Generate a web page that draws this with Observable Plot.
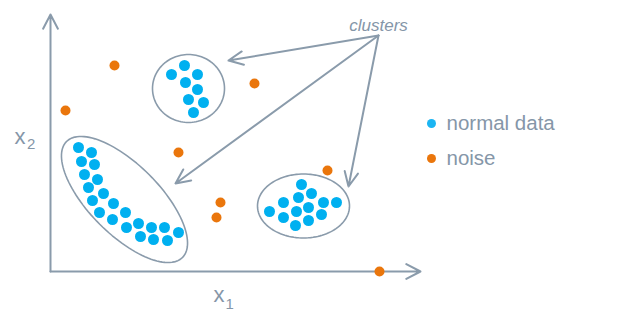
<!DOCTYPE html>
<html>
<head>
<meta charset="utf-8">
<script src="https://cdn.jsdelivr.net/npm/d3@7"></script>
<script src="https://cdn.jsdelivr.net/npm/@observablehq/plot@0.6"></script>
<style>
  html, body { margin: 0; padding: 0; background: #fff; }
  #chart svg { display: block; }
</style>
</head>
<body>
<div id="chart"></div>
<script>
// Normal data (three clusters), values in x1 / x2 units
const normalX1 = [28, 41, 31, 44, 34, 47, 38, 53, 42, 63, 49, 75, 62, 76, 88, 101, 114, 128, 90, 103, 117,
                  134, 121, 147, 135, 147, 138, 153, 143,
                  251, 261, 248, 233, 273, 286, 258, 219, 246, 233, 271, 258, 245];
const normalX2 = [124, 119, 110, 107, 97, 92, 84, 78, 71, 68, 59, 59, 52, 44, 48, 44, 44, 39, 35, 32, 31,
                  206, 197, 197, 189, 182, 172, 169, 159,
                  87, 78, 74, 69, 69, 69, 64, 60, 60, 54, 57, 51, 46];
// Noise points
const noiseX1 = [64, 15, 204, 128, 277, 170, 166, 329];
const noiseX2 = [206, 161, 188, 119, 101, 69, 54, 0];
// Cluster outlines: centre, radii, rotation (deg)
const clusterCx = [74, 138, 253];
const clusterCy = [72, 183, 65.5];
const clusterRx = [82, 36, 46];
const clusterRy = [35, 34, 32];
const clusterRot = [-45, 0, 0];
// Annotation arrows from the "clusters" label
const arrowFromX = [328, 328, 328];
const arrowFromY = [236, 236, 236];
const arrowToX = [178, 125, 298];
const arrowToY = [211, 88, 85];
// Legend
const legendLabels = ["normal data", "noise"];
const legendColors = ["#1cb5f2", "#ea760c"];

const BLUE = "#00b0f0", ORANGE = "#ea760c", GREY = "#8a9bab", TEXT = "#8596a8";

const normal = normalX1.map((x, i) => ({x, y: normalX2[i]}));
const noise = noiseX1.map((x, i) => ({x, y: noiseX2[i]}));
const outline = [];
clusterCx.forEach((cx, k) => {
  const phi = clusterRot[k] * Math.PI / 180;
  for (let j = 0; j <= 120; j++) {
    const t = j / 120 * 2 * Math.PI;
    const ex = clusterRx[k] * Math.cos(t), ey = clusterRy[k] * Math.sin(t);
    outline.push({k, x: cx + ex * Math.cos(phi) - ey * Math.sin(phi), y: clusterCy[k] + ex * Math.sin(phi) + ey * Math.cos(phi)});
  }
});
const arrows = arrowFromX.map((x, i) => ({x1: x, y1: arrowFromY[i], x2: arrowToX[i], y2: arrowToY[i]}));
const axes = [{x1: 0, y1: 0, x2: 0, y2: 257}, {x1: 0, y1: 0, x2: 370, y2: 0}];
const legend = legendLabels.map((label, i) => ({label, color: legendColors[i], x: 381, y: 148 - i * 35}));

const font = "Liberation Sans, Arial, sans-serif";

const chart = Plot.plot({
  width: 627,
  height: 323,
  margin: 0,
  style: {fontFamily: font, background: "#fff"},
  x: {domain: [-50, 577], axis: null},
  y: {domain: [-52, 271], axis: null},
  marks: [
    Plot.arrow(axes, {x1: "x1", y1: "y1", x2: "x2", y2: "y2", stroke: GREY, strokeWidth: 2, headLength: 12, headAngle: 55}),
    Plot.line(outline, {x: "x", y: "y", z: "k", stroke: GREY, strokeWidth: 1.6}),
    Plot.arrow(arrows, {x1: "x1", y1: "y1", x2: "x2", y2: "y2", stroke: GREY, strokeWidth: 2, headLength: 12, headAngle: 50}),
    Plot.dot(normal, {x: "x", y: "y", r: 5.5, fill: BLUE}),
    Plot.dot(noise, {x: "x", y: "y", r: 5, fill: ORANGE}),
    Plot.text(["clusters"], {x: 328, y: 246, text: d => d, fontSize: 17, fontStyle: "italic", fill: TEXT}),
    Plot.text(["x"], {x: -36, y: 128, text: d => d, fontSize: 22, textAnchor: "start", lineAnchor: "bottom", fill: TEXT}),
    Plot.text(["2"], {x: -23.5, y: 123, text: d => d, fontSize: 15, textAnchor: "start", lineAnchor: "bottom", fill: TEXT}),
    Plot.text(["x"], {x: 163, y: -30.7, text: d => d, fontSize: 22, textAnchor: "start", lineAnchor: "bottom", fill: TEXT}),
    Plot.text(["1"], {x: 175, y: -37, text: d => d, fontSize: 15, textAnchor: "start", lineAnchor: "bottom", fill: TEXT}),
    Plot.dot(legend, {x: "x", y: "y", r: 4.5, fill: "color"}),
    Plot.text(legend, {x: d => d.x + 15, y: d => d.y - 6, text: "label", fontSize: 20.5, textAnchor: "start", lineAnchor: "bottom", fill: TEXT})
  ]
});
document.getElementById("chart").appendChild(chart);
</script>
</body>
</html>
